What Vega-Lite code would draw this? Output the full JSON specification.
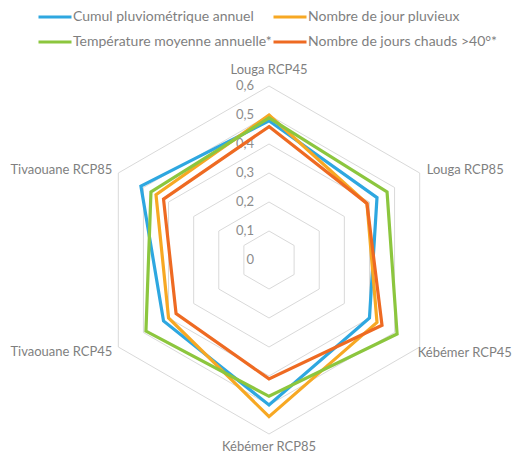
{
  "$schema": "https://vega.github.io/schema/vega-lite/v6.json",
  "width": 520,
  "height": 457,
  "padding": 0,
  "autosize": "none",
  "background": "white",
  "config": {"view": {"stroke": null}, "font": "Lato"},
  "datasets": {
    "series": [
      {"serie": "Cumul pluviométrique annuel", "cat": "Louga RCP45", "value": 0.48},
      {"serie": "Cumul pluviométrique annuel", "cat": "Louga RCP85", "value": 0.43},
      {"serie": "Cumul pluviométrique annuel", "cat": "Kébémer RCP45", "value": 0.40},
      {"serie": "Cumul pluviométrique annuel", "cat": "Kébémer RCP85", "value": 0.50},
      {"serie": "Cumul pluviométrique annuel", "cat": "Tivaouane RCP45", "value": 0.42},
      {"serie": "Cumul pluviométrique annuel", "cat": "Tivaouane RCP85", "value": 0.51},
      {"serie": "Nombre de jour pluvieux", "cat": "Louga RCP45", "value": 0.50},
      {"serie": "Nombre de jour pluvieux", "cat": "Louga RCP85", "value": 0.39},
      {"serie": "Nombre de jour pluvieux", "cat": "Kébémer RCP45", "value": 0.43},
      {"serie": "Nombre de jour pluvieux", "cat": "Kébémer RCP85", "value": 0.54},
      {"serie": "Nombre de jour pluvieux", "cat": "Tivaouane RCP45", "value": 0.40},
      {"serie": "Nombre de jour pluvieux", "cat": "Tivaouane RCP85", "value": 0.45},
      {"serie": "Température moyenne annuelle*", "cat": "Louga RCP45", "value": 0.49},
      {"serie": "Température moyenne annuelle*", "cat": "Louga RCP85", "value": 0.47},
      {"serie": "Température moyenne annuelle*", "cat": "Kébémer RCP45", "value": 0.51},
      {"serie": "Température moyenne annuelle*", "cat": "Kébémer RCP85", "value": 0.47},
      {"serie": "Température moyenne annuelle*", "cat": "Tivaouane RCP45", "value": 0.49},
      {"serie": "Température moyenne annuelle*", "cat": "Tivaouane RCP85", "value": 0.47},
      {"serie": "Nombre de jours chauds >40°*", "cat": "Louga RCP45", "value": 0.46},
      {"serie": "Nombre de jours chauds >40°*", "cat": "Louga RCP85", "value": 0.39},
      {"serie": "Nombre de jours chauds >40°*", "cat": "Kébémer RCP45", "value": 0.45},
      {"serie": "Nombre de jours chauds >40°*", "cat": "Kébémer RCP85", "value": 0.41},
      {"serie": "Nombre de jours chauds >40°*", "cat": "Tivaouane RCP45", "value": 0.37},
      {"serie": "Nombre de jours chauds >40°*", "cat": "Tivaouane RCP85", "value": 0.42}
    ],
    "cats": [
      {"cat": "Louga RCP45"}, {"cat": "Louga RCP85"}, {"cat": "Kébémer RCP45"},
      {"cat": "Kébémer RCP85"}, {"cat": "Tivaouane RCP45"}, {"cat": "Tivaouane RCP85"}
    ],
    "grid": [
      {"level": 0.1, "cat": "Louga RCP45"}, {"level": 0.1, "cat": "Louga RCP85"}, {"level": 0.1, "cat": "Kébémer RCP45"}, {"level": 0.1, "cat": "Kébémer RCP85"}, {"level": 0.1, "cat": "Tivaouane RCP45"}, {"level": 0.1, "cat": "Tivaouane RCP85"},
      {"level": 0.2, "cat": "Louga RCP45"}, {"level": 0.2, "cat": "Louga RCP85"}, {"level": 0.2, "cat": "Kébémer RCP45"}, {"level": 0.2, "cat": "Kébémer RCP85"}, {"level": 0.2, "cat": "Tivaouane RCP45"}, {"level": 0.2, "cat": "Tivaouane RCP85"},
      {"level": 0.3, "cat": "Louga RCP45"}, {"level": 0.3, "cat": "Louga RCP85"}, {"level": 0.3, "cat": "Kébémer RCP45"}, {"level": 0.3, "cat": "Kébémer RCP85"}, {"level": 0.3, "cat": "Tivaouane RCP45"}, {"level": 0.3, "cat": "Tivaouane RCP85"},
      {"level": 0.4, "cat": "Louga RCP45"}, {"level": 0.4, "cat": "Louga RCP85"}, {"level": 0.4, "cat": "Kébémer RCP45"}, {"level": 0.4, "cat": "Kébémer RCP85"}, {"level": 0.4, "cat": "Tivaouane RCP45"}, {"level": 0.4, "cat": "Tivaouane RCP85"},
      {"level": 0.5, "cat": "Louga RCP45"}, {"level": 0.5, "cat": "Louga RCP85"}, {"level": 0.5, "cat": "Kébémer RCP45"}, {"level": 0.5, "cat": "Kébémer RCP85"}, {"level": 0.5, "cat": "Tivaouane RCP45"}, {"level": 0.5, "cat": "Tivaouane RCP85"},
      {"level": 0.6, "cat": "Louga RCP45"}, {"level": 0.6, "cat": "Louga RCP85"}, {"level": 0.6, "cat": "Kébémer RCP45"}, {"level": 0.6, "cat": "Kébémer RCP85"}, {"level": 0.6, "cat": "Tivaouane RCP45"}, {"level": 0.6, "cat": "Tivaouane RCP85"}
    ],
    "ticks": [
      {"level": 0, "label": "0"}, {"level": 0.1, "label": "0,1"}, {"level": 0.2, "label": "0,2"},
      {"level": 0.3, "label": "0,3"}, {"level": 0.4, "label": "0,4"}, {"level": 0.5, "label": "0,5"},
      {"level": 0.6, "label": "0,6"}
    ]
  },
  "encoding": {
    "x": {"field": "x", "type": "quantitative", "axis": null, "scale": {"domain": [-0.9276, 0.8655], "nice": false, "zero": false}},
    "y": {"field": "y", "type": "quantitative", "axis": null, "scale": {"domain": [-0.6793, 0.8966], "nice": false, "zero": false}}
  },
  "layer": [
    {
      "data": {"name": "grid"},
      "transform": [
        {"calculate": "indexof(['Louga RCP45','Louga RCP85','Kébémer RCP45','Kébémer RCP85','Tivaouane RCP45','Tivaouane RCP85'], datum.cat)", "as": "idx"},
        {"calculate": "datum.level*sin(datum.idx*PI/3)", "as": "x"},
        {"calculate": "datum.level*cos(datum.idx*PI/3)", "as": "y"}
      ],
      "mark": {"type": "line", "interpolate": "linear-closed", "stroke": "#d9d9d9", "strokeWidth": 1},
      "encoding": {"detail": {"field": "level", "type": "nominal"}, "order": {"field": "idx", "type": "quantitative"}}
    },
    {
      "data": {"name": "ticks"},
      "transform": [
        {"calculate": "0", "as": "x"},
        {"calculate": "datum.level", "as": "y"}
      ],
      "mark": {"type": "text", "align": "right", "baseline": "middle", "dx": -15, "fontSize": 13, "color": "#8c8c8c"},
      "encoding": {"text": {"field": "label"}}
    },
    {
      "data": {"name": "cats"},
      "transform": [
        {"calculate": "indexof(['Louga RCP45','Louga RCP85','Kébémer RCP45','Kébémer RCP85','Tivaouane RCP45','Tivaouane RCP85'], datum.cat)", "as": "idx"},
        {"filter": "datum.idx == 0"},
        {"calculate": "0.6*sin(datum.idx*PI/3)", "as": "x"},
        {"calculate": "0.6*cos(datum.idx*PI/3)", "as": "y"}
      ],
      "mark": {"type": "text", "align": "center", "baseline": "middle", "dy": -16, "fontSize": 13, "color": "#7f7f7f"},
      "encoding": {"text": {"field": "cat"}}
    },
    {
      "data": {"name": "cats"},
      "transform": [
        {"calculate": "indexof(['Louga RCP45','Louga RCP85','Kébémer RCP45','Kébémer RCP85','Tivaouane RCP45','Tivaouane RCP85'], datum.cat)", "as": "idx"},
        {"filter": "datum.idx == 3"},
        {"calculate": "0.6*sin(datum.idx*PI/3)", "as": "x"},
        {"calculate": "0.6*cos(datum.idx*PI/3)", "as": "y"}
      ],
      "mark": {"type": "text", "align": "center", "baseline": "middle", "dy": 13, "fontSize": 13, "color": "#7f7f7f"},
      "encoding": {"text": {"field": "cat"}}
    },
    {
      "data": {"name": "cats"},
      "transform": [
        {"calculate": "indexof(['Louga RCP45','Louga RCP85','Kébémer RCP45','Kébémer RCP85','Tivaouane RCP45','Tivaouane RCP85'], datum.cat)", "as": "idx"},
        {"filter": "datum.idx == 1"},
        {"calculate": "0.6*sin(datum.idx*PI/3)", "as": "x"},
        {"calculate": "0.6*cos(datum.idx*PI/3)", "as": "y"}
      ],
      "mark": {"type": "text", "align": "left", "baseline": "middle", "dx": 7, "dy": -3, "fontSize": 13, "color": "#7f7f7f"},
      "encoding": {"text": {"field": "cat"}}
    },
    {
      "data": {"name": "cats"},
      "transform": [
        {"calculate": "indexof(['Louga RCP45','Louga RCP85','Kébémer RCP45','Kébémer RCP85','Tivaouane RCP45','Tivaouane RCP85'], datum.cat)", "as": "idx"},
        {"filter": "datum.idx == 2"},
        {"calculate": "0.6*sin(datum.idx*PI/3)", "as": "x"},
        {"calculate": "0.6*cos(datum.idx*PI/3)", "as": "y"}
      ],
      "mark": {"type": "text", "align": "left", "baseline": "middle", "dx": -2, "dy": 6, "fontSize": 13, "color": "#7f7f7f"},
      "encoding": {"text": {"field": "cat"}}
    },
    {
      "data": {"name": "cats"},
      "transform": [
        {"calculate": "indexof(['Louga RCP45','Louga RCP85','Kébémer RCP45','Kébémer RCP85','Tivaouane RCP45','Tivaouane RCP85'], datum.cat)", "as": "idx"},
        {"filter": "datum.idx == 4"},
        {"calculate": "0.6*sin(datum.idx*PI/3)", "as": "x"},
        {"calculate": "0.6*cos(datum.idx*PI/3)", "as": "y"}
      ],
      "mark": {"type": "text", "align": "right", "baseline": "middle", "dx": -6, "dy": 5, "fontSize": 13, "color": "#7f7f7f"},
      "encoding": {"text": {"field": "cat"}}
    },
    {
      "data": {"name": "cats"},
      "transform": [
        {"calculate": "indexof(['Louga RCP45','Louga RCP85','Kébémer RCP45','Kébémer RCP85','Tivaouane RCP45','Tivaouane RCP85'], datum.cat)", "as": "idx"},
        {"filter": "datum.idx == 5"},
        {"calculate": "0.6*sin(datum.idx*PI/3)", "as": "x"},
        {"calculate": "0.6*cos(datum.idx*PI/3)", "as": "y"}
      ],
      "mark": {"type": "text", "align": "right", "baseline": "middle", "dx": -6, "dy": -3, "fontSize": 13, "color": "#7f7f7f"},
      "encoding": {"text": {"field": "cat"}}
    },
    {
      "data": {"name": "series"},
      "transform": [
        {"calculate": "indexof(['Louga RCP45','Louga RCP85','Kébémer RCP45','Kébémer RCP85','Tivaouane RCP45','Tivaouane RCP85'], datum.cat)", "as": "idx"},
        {"calculate": "datum.value*sin(datum.idx*PI/3)", "as": "x"},
        {"calculate": "datum.value*cos(datum.idx*PI/3)", "as": "y"}
      ],
      "mark": {"type": "line", "interpolate": "linear-closed", "strokeWidth": 3.2},
      "encoding": {
        "order": {"field": "idx", "type": "quantitative"},
        "color": {
          "field": "serie", "type": "nominal",
          "scale": {
            "domain": ["Cumul pluviométrique annuel", "Nombre de jour pluvieux", "Température moyenne annuelle*", "Nombre de jours chauds >40°*"],
            "range": ["#2ea7e0", "#f7a823", "#8cc63e", "#ee6a22"]
          },
          "legend": {
            "orient": "none", "legendX": 37, "legendY": -1, "direction": "horizontal", "columns": 2,
            "title": null, "symbolType": "stroke", "symbolSize": 1089, "symbolStrokeWidth": 3,
            "labelFont": "Lato", "labelFontSize": 14, "labelColor": "#7f7f7f", "labelOffset": 0,
            "columnPadding": -9, "rowPadding": -6, "labelLimit": 400
          }
        }
      }
    }
  ]
}
